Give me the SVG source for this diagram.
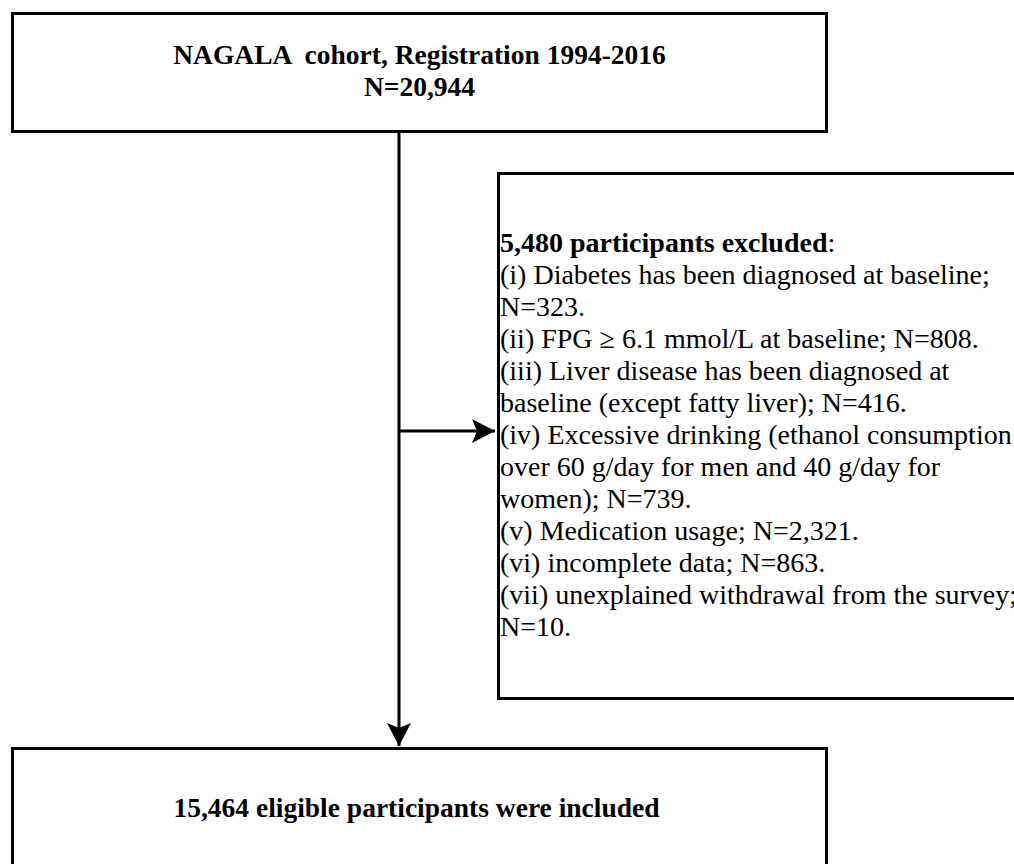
<svg xmlns="http://www.w3.org/2000/svg" width="1014" height="864" viewBox="0 0 1014 864">
<style>
.box{fill:#fff;stroke:#000;stroke-width:3}
.conn{fill:none;stroke:#000;stroke-width:3}
.t{font-family:"Liberation Serif","Times New Roman","DejaVu Serif",serif;fill:#000}
.b{font-weight:bold;font-size:27.5px}
.r{font-size:28px;font-weight:normal}
</style>
<defs>
<marker id="ah" markerUnits="userSpaceOnUse" markerWidth="26" markerHeight="26" refX="23" refY="12" orient="auto">
<path d="M0,0 L23,12 L0,24 L5,12 Z" fill="#000"/>
</marker>
</defs>
<rect width="1014" height="864" fill="#fff"/>
<g id="connectors">
<line class="conn" x1="399" y1="132" x2="399" y2="746" marker-end="url(#ah)"/>
<line class="conn" x1="399" y1="431" x2="495" y2="431" marker-end="url(#ah)"/>
</g>
<g id="node-cohort">
<rect class="box" x="12.5" y="13.5" width="814" height="118"/>
<text class="t b" x="419.5" y="64" text-anchor="middle" xml:space="preserve">NAGALA  cohort, Registration 1994-2016</text>
<text class="t b" x="419.5" y="96" text-anchor="middle">N=20,944</text>
</g>
<g id="node-excluded">
<rect class="box" x="498.5" y="173.5" width="530" height="525"/>
<text class="t r" x="500" y="252"><tspan font-weight="bold">5,480 participants excluded</tspan>:</text>
<text class="t r" x="500" y="284">(i) Diabetes has been diagnosed at baseline;</text>
<text class="t r" x="500" y="316">N=323.</text>
<text class="t r" x="500" y="348">(ii) FPG ≥ 6.1 mmol/L at baseline; N=808.</text>
<text class="t r" x="500" y="380">(iii) Liver disease has been diagnosed at</text>
<text class="t r" x="500" y="412">baseline (except fatty liver); N=416.</text>
<text class="t r" x="500" y="444">(iv) Excessive drinking (ethanol consumption</text>
<text class="t r" x="500" y="476">over 60 g/day for men and 40 g/day for</text>
<text class="t r" x="500" y="508">women); N=739.</text>
<text class="t r" x="500" y="540">(v) Medication usage; N=2,321.</text>
<text class="t r" x="500" y="572">(vi) incomplete data; N=863.</text>
<text class="t r" x="500" y="604">(vii) unexplained withdrawal from the survey;</text>
<text class="t r" x="500" y="636">N=10.</text>
</g>
<g id="node-included">
<rect class="box" x="12.5" y="748.5" width="814" height="130"/>
<text class="t b" x="416.5" y="817" text-anchor="middle">15,464 eligible participants were included</text>
</g>
</svg>
